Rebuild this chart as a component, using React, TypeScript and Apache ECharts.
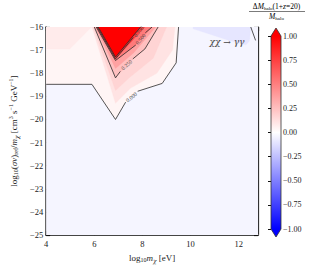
import React, { useEffect, useRef } from "react";
import * as echarts from "echarts";

const FONT = "'Liberation Serif', 'DejaVu Serif', serif";
const GREEK_FONT = "'DejaVu Serif', serif";

// axes
const xMin = 4, xMax = 12.8, xStep = 2;
const yMin = -25, yMax = -16, yStep = 1;
const cbMin = -1, cbMax = 1, cbStep = 0.25;

// filled contour regions (value of the region, polygon in data coords)
const fillLevels = [-0.04, -0.1, 0.04, 0.08, 0.11, 0.17, 0.25, 0.37, 0.52, 0.75, 1.0];
const regionBase = [[4, -25], [12.8, -25], [12.8, -16], [4, -16]];
const regionNegPatch = [[10.1, -16], [12.5, -16], [12.45, -16.6], [12.3, -16.78], [11.5, -16.55], [10.1, -16.08]];
const regionPos = [[4, -16], [4, -18.48], [5.9, -18.48], [6.88, -20], [7.3, -19.25], [7.8, -18.78], [8.82, -18.44], [9.4, -17.55], [9.5, -16]];
const regionTopLeft = [[4, -16], [4, -16.95], [4.98, -16.95], [5.88, -16]];
const regionBand1 = [[5.9, -16], [6.88, -19.3], [7.5, -18.65], [8.6, -18.0], [9.25, -17.0], [9.35, -16]];
const regionBand2 = [[5.95, -16], [6.88, -18.75], [7.45, -18.2], [8.45, -17.35], [9.0, -16]];
const regionBand3 = [[6.0, -16], [6.88, -18.2], [7.55, -17.45], [8.1, -16.95], [8.65, -16]];
const regionBand4 = [[6.04, -16], [6.88, -17.8], [7.65, -17.1], [8.55, -16]];
const regionBand5 = [[6.08, -16], [6.88, -17.45], [7.72, -16.78], [8.4, -16]];
const regionBand6 = [[6.12, -16], [6.88, -17.38], [8.1, -16]];
const regionBand7 = [[6.16, -16], [6.88, -17.3], [7.92, -16]];
const regions = [regionBase, regionNegPatch, regionPos, regionTopLeft, regionBand1, regionBand2, regionBand3, regionBand4, regionBand5, regionBand6, regionBand7];

// contour lines
const c000a = [[4, -18.48], [5.9, -18.48], [6.88, -20.0], [7.3, -19.25]];
const c000b = [[7.8, -18.78], [8.82, -18.44], [9.4, -17.55], [9.5, -16]];
const c025a = [[6.0, -16], [6.88, -18.2], [7.08, -17.92]];
const c025b = [[7.6, -17.38], [8.1, -16.95], [8.65, -16]];
const c050a = [[6.08, -16], [6.88, -17.45], [7.72, -16.78]];
const c050b = [[8.12, -16.25], [8.4, -16]];
const c075a = [[6.12, -16], [6.88, -17.38], [7.62, -16.45]];
const c100 = [[6.16, -16], [6.88, -17.3], [7.92, -16]];
const cRight = [[12.5, -16], [12.7, -16.58]];
const contourLines = [c000a, c000b, c025a, c025b, c050a, c050b, c075a, c100, cRight];

// contour labels
const labelTexts = ["0.000", "0.250", "0.500", "0.750"];
const labelPos = [[7.54, -19.03], [7.34, -17.64], [7.92, -16.52], [7.84, -16.2]];
const labelAngles = [38, 42, 50, 52];

// colorbar ticks
const cbTicks = [-1, -0.75, -0.5, -0.25, 0, 0.25, 0.5, 0.75, 1];

function bwr(v: number) {
  const c = Math.max(-1, Math.min(1, v));
  if (c >= 0) {
    const g = Math.round(255 * (1 - c));
    return `rgb(255,${g},${g})`;
  }
  const g = Math.round(255 * (1 + c));
  return `rgb(${g},${g},255)`;
}

const minus = (s: string) => s.replace("-", "\u2212");

const rich = {
  n: { fontSize: 9, fontFamily: FONT, color: "#222" },
  i: { fontSize: 9, fontFamily: FONT, fontStyle: "italic", color: "#222" },
  s: { fontSize: 6, fontFamily: FONT, color: "#222", padding: [5, 0, 0, 0] },
  si: { fontSize: 6, fontFamily: GREEK_FONT, fontStyle: "italic", color: "#222", padding: [5, 0, 0, 0] },
  p: { fontSize: 6, fontFamily: FONT, color: "#222", padding: [0, 0, 5, 0] },
};

export default function App() {
  const ref = useRef<HTMLDivElement>(null);
  useEffect(() => {
    if (!ref.current) return;
    const chart = echarts.init(ref.current, undefined, { renderer: "svg" });
    const option: any = {
      animation: false,
      backgroundColor: "#fff",
      grid: [
        { left: 35, top: 27, width: 223, height: 211 },
        { left: 271, top: 36, width: 10, height: 193 },
      ],
      xAxis: [
        {
          gridIndex: 0, type: "value", position: "bottom", min: xMin, max: xMax, interval: xStep,
          axisLine: { lineStyle: { color: "#444", width: 2 } },
          axisTick: { inside: true, length: 4, lineStyle: { color: "#111", width: 1.2 } },
          axisLabel: { color: "#222", fontSize: 8.5, fontFamily: FONT, margin: 4, showMaxLabel: false },
          splitLine: { show: false },
          name: "{n|log}{s|10}{i|m}{si|\u03c7}{n| [eV]}",
          nameLocation: "middle", nameGap: 13,
          nameTextStyle: { rich },
        },
        {
          gridIndex: 0, type: "value", position: "top", min: xMin, max: xMax, interval: xStep,
          axisLine: { lineStyle: { color: "#111", width: 1.2 } },
          axisTick: { inside: true, length: 4, lineStyle: { color: "#111", width: 1.2 } },
          axisLabel: { show: false }, splitLine: { show: false },
        },
        { gridIndex: 1, type: "value", min: 0, max: 1, show: false },
      ],
      yAxis: [
        {
          gridIndex: 0, type: "value", position: "left", min: yMin, max: yMax, interval: yStep,
          axisLine: { lineStyle: { color: "#333", width: 1.5 } },
          axisTick: { inside: true, length: 4, lineStyle: { color: "#111", width: 1.2 } },
          axisLabel: { color: "#222", fontSize: 8.5, fontFamily: FONT, margin: 3, formatter: (v: number) => minus(String(v)) },
          splitLine: { show: false },
          name: "{n|log}{s|10}{n|(}{i|\u03c3v}{n|)}{s|ref}{n|/}{i|m}{si|\u03c7}{n| [cm}{p|3}{n| s}{p|\u22121}{n| GeV}{p|\u22121}{n|]}",
          nameLocation: "middle", nameGap: 21, nameRotate: 90,
          nameTextStyle: { rich },
        },
        {
          gridIndex: 0, type: "value", position: "right", min: yMin, max: yMax, interval: yStep,
          axisLine: { lineStyle: { color: "#111", width: 1.2 } },
          axisTick: { inside: true, length: 4, lineStyle: { color: "#111", width: 1.2 } },
          axisLabel: { show: false }, splitLine: { show: false },
        },
        {
          gridIndex: 1, type: "value", position: "right", min: cbMin, max: cbMax, interval: cbStep,
          axisLine: { show: false },
          axisTick: { inside: true, length: 3, lineStyle: { color: "#111", width: 1 } },
          axisLabel: {
            color: "#222", fontSize: 8, fontFamily: FONT, margin: 2,
            formatter: (v: number) => (cbTicks.indexOf(v) >= 0 ? minus(v.toFixed(2)) : ""),
          },
          splitLine: { show: false },
        },
      ],
      series: [
        {
          type: "custom", xAxisIndex: 0, yAxisIndex: 0, clip: true,
          data: regions.map((_, i) => [i]),
          renderItem: (params: any, api: any) => {
            const pts = regions[params.dataIndex].map((p) => api.coord(p));
            return { type: "polygon", shape: { points: pts }, style: { fill: bwr(fillLevels[params.dataIndex]), stroke: bwr(fillLevels[params.dataIndex]), lineWidth: 0.3 } };
          },
          z: 1,
        },
        {
          type: "custom", xAxisIndex: 0, yAxisIndex: 0, clip: true,
          data: contourLines.map((_, i) => [i]),
          renderItem: (params: any, api: any) => {
            const pts = contourLines[params.dataIndex].map((p) => api.coord(p));
            return { type: "polyline", shape: { points: pts }, style: { fill: "none", stroke: "#2a2a2a", lineWidth: 0.8 } };
          },
          z: 2,
        },
        {
          type: "custom", xAxisIndex: 0, yAxisIndex: 0, clip: false,
          data: labelTexts.map((_, i) => [i]),
          renderItem: (params: any, api: any) => {
            const i = params.dataIndex;
            const pt = api.coord(labelPos[i]);
            return {
              type: "text", x: pt[0], y: pt[1], rotation: (labelAngles[i] * Math.PI) / 180,
              style: { text: labelTexts[i], fontSize: 5.5, fontFamily: FONT, fill: "#444", align: "center", verticalAlign: "middle" },
            };
          },
          z: 3,
        },
        {
          type: "custom", xAxisIndex: 2, yAxisIndex: 2, clip: false,
          data: [[0]],
          renderItem: (params: any, api: any) => {
            const a = api.coord([0, cbMax]);
            const b = api.coord([1, cbMin]);
            const x0 = a[0], x1 = b[0], y0 = a[1], y1 = b[1];
            const xm = (x0 + x1) / 2;
            const tri = 8;
            return {
              type: "group",
              children: [
                {
                  type: "rect", shape: { x: x0, y: y0, width: x1 - x0, height: y1 - y0 },
                  style: {
                    fill: new echarts.graphic.LinearGradient(0, 0, 0, 1, [
                      { offset: 0, color: bwr(1) },
                      { offset: 0.5, color: bwr(0) },
                      { offset: 1, color: bwr(-1) },
                    ]),
                  },
                },
                { type: "polygon", shape: { points: [[x0, y0], [x1, y0], [xm, y0 - tri]] }, style: { fill: bwr(1) } },
                { type: "polygon", shape: { points: [[x0, y1], [x1, y1], [xm, y1 + tri]] }, style: { fill: bwr(-1) } },
                {
                  type: "polygon",
                  shape: { points: [[x0, y0], [xm, y0 - tri], [x1, y0], [x1, y1], [xm, y1 + tri], [x0, y1]] },
                  style: { fill: "none", stroke: "#333", lineWidth: 0.8 },
                },
              ],
            };
          },
          z: 2,
        },
      ],
      graphic: [
        {
          type: "text", x: 276.5, y: 6.5,
          style: {
            text: "{n|\u0394}{i|M}{s|halo}{n|(1+}{i|z}{n|=20)}",
            rich: {
              n: { fontSize: 7.5, fontFamily: FONT, color: "#222" },
              i: { fontSize: 7.5, fontFamily: FONT, fontStyle: "italic", color: "#222" },
              s: { fontSize: 5, fontFamily: FONT, color: "#222", padding: [4, 0, 0, 0] },
            },
            align: "center", verticalAlign: "middle",
          },
        },
        { type: "line", shape: { x1: 249, y1: 11.5, x2: 305, y2: 11.5 }, style: { stroke: "#222", lineWidth: 0.6 } },
        {
          type: "text", x: 276.5, y: 16.5,
          style: {
            text: "{i|M}{s|halo}",
            rich: {
              i: { fontSize: 7.5, fontFamily: FONT, fontStyle: "italic", color: "#222" },
              s: { fontSize: 5, fontFamily: FONT, color: "#222", padding: [4, 0, 0, 0] },
            },
            align: "center", verticalAlign: "middle",
          },
        },
        {
          type: "text", x: 227, y: 42,
          style: {
            text: "\u03c7\u03c7 \u2192 \u03b3\u03b3",
            fontSize: 9, fontFamily: GREEK_FONT, fontStyle: "italic", fill: "#444",
            align: "center", verticalAlign: "middle",
          },
          z: 10,
        },
      ],
    };
    chart.setOption(option);
    return () => chart.dispose();
  }, []);
  return <div ref={ref} style={{ position: "fixed", left: 0, top: 0, width: 310, height: 268 }} />;
}
